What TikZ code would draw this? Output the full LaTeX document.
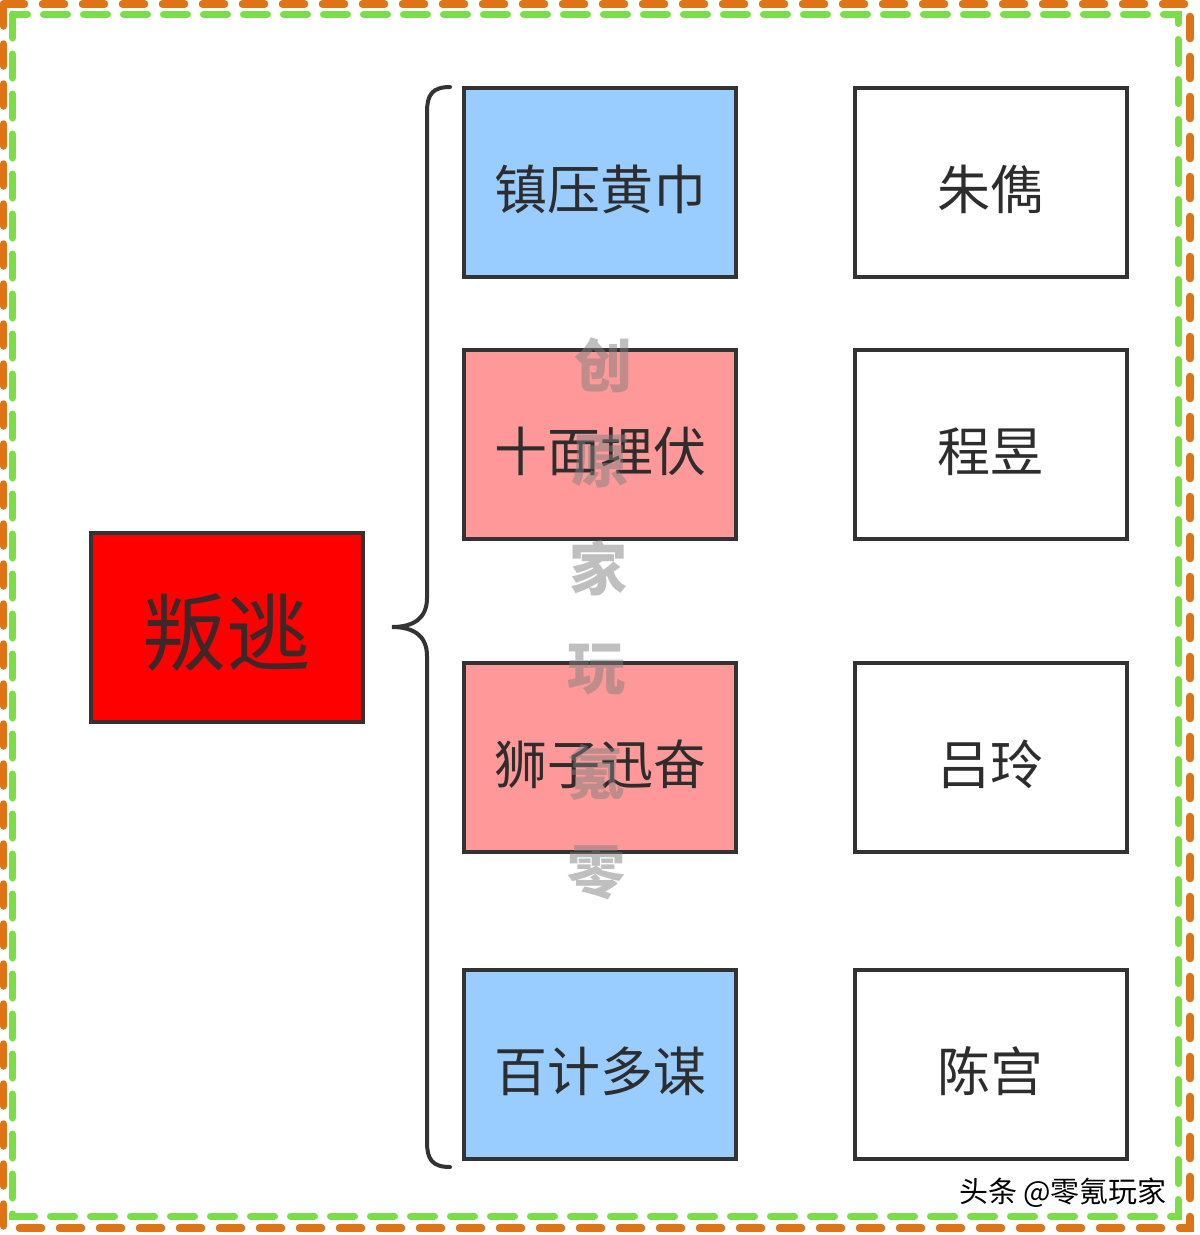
\documentclass[tikz,border=0pt]{standalone}
\usepackage{fontspec}
\newfontfamily\cjk{Noto Sans CJK SC}
\definecolor{dashorange}{RGB}{222,116,22}
\definecolor{dashgreen}{RGB}{122,222,72}
\definecolor{boxline}{RGB}{51,51,51}
\definecolor{lblue}{RGB}{153,204,255}
\definecolor{lpink}{RGB}{255,153,153}
\definecolor{txt}{RGB}{45,45,45}
\begin{document}
\begin{tikzpicture}[x=1pt,y=-1pt,
  box/.style={draw=boxline,line width=4pt,minimum width=272pt,minimum height=189pt,inner sep=0pt,font=\cjk\fontsize{53}{53}\selectfont,text=txt,text height=56pt,text depth=2pt},
  brace/.style={draw=boxline,line width=4pt,line cap=round},
  wm/.style={text=gray,opacity=0.5,font=\cjk\bfseries\fontsize{58}{58}\selectfont,inner sep=0pt}]
\useasboundingbox (0,0) rectangle (1200,1235);
\fill[white] (0,0) rectangle (1200,1235);
% borders
\draw[dashorange,line width=7.5pt,line cap=round,dash pattern=on 22pt off 18pt] (3.5,4) rectangle (1190,1228);
\draw[dashgreen,line width=7pt,line cap=round,dash pattern=on 24pt off 16pt] (12.5,14) rectangle (1178,1216);
% nodes
\node[box,fill=red,font=\cjk\fontsize{84}{84}\selectfont,text height=76pt,text depth=2pt,text={rgb,255:red,60;green,40;blue,40}] (root) at (226.5,627) {叛逃};
\node[box,fill=lblue] (a1) at (600,182) {镇压黄巾};
\node[box,fill=lpink] (a2) at (600,444) {十面埋伏};
\node[box,fill=lpink] (a3) at (600,757) {狮子迅奋};
\node[box,fill=lblue] (a4) at (600,1064) {百计多谋};
\node[box,fill=white] (b1) at (990.5,182) {朱儁};
\node[box,fill=white] (b2) at (990.5,444) {程昱};
\node[box,fill=white] (b3) at (990.5,757) {吕玲};
\node[box,fill=white] (b4) at (990.5,1064) {陈宫};
% brace
\coordinate (btop) at (450,87);
\coordinate (btip) at (392,627);
\coordinate (bbot) at (450,1167);
\draw[brace] (btop) .. controls (432,87) and (427,95) .. (427,112) -- (427,598)
  .. controls (427,618) and (414,627) .. (btip)
  .. controls (414,627) and (427,636) .. (427,656) -- (427,1142)
  .. controls (427,1159) and (432,1167) .. (bbot);
% watermark
\node[wm] (w1) at (603,365) {创};
\node[wm] (w2) at (600,462) {原};
\node[wm] (w3) at (598,568) {家};
\node[wm] (w4) at (596,670) {玩};
\node[wm] (w5) at (596,772) {氪};
\node[wm] (w6) at (596,873) {零};
% credit
\node[font=\cjk\fontsize{29}{29}\selectfont,text=black,inner sep=0pt] (credit) at (1063,1193) {头条 @零氪玩家};
\end{tikzpicture}
\end{document}
